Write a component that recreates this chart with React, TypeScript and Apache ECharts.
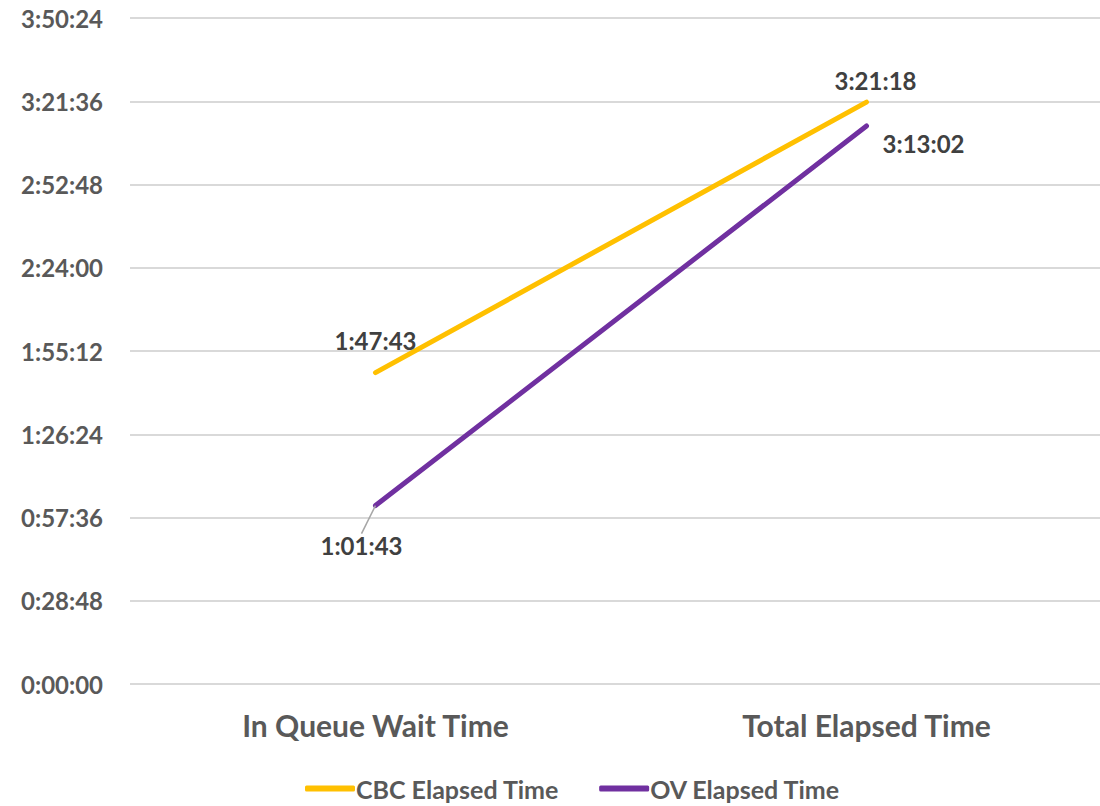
import React, { useEffect, useRef } from "react";
import * as echarts from "echarts";

const categories = ["In Queue Wait Time", "Total Elapsed Time"];
const cbcSeconds = [6463, 12078]; // 1:47:43, 3:21:18
const ovSeconds = [3703, 11582]; // 1:01:43, 3:13:02
const seriesNames = ["CBC Elapsed Time", "OV Elapsed Time"];
const yInterval = 1728; // 0:28:48
const yMax = 13824; // 3:50:24

function fmt(sec: number): string {
  const s = Math.round(sec);
  const h = Math.floor(s / 3600);
  const m = Math.floor((s % 3600) / 60);
  const ss = s % 60;
  return `${h}:${String(m).padStart(2, "0")}:${String(ss).padStart(2, "0")}`;
}

const FONT = "Lato, 'Open Sans', sans-serif";

export default function App() {
  const ref = useRef<HTMLDivElement>(null);
  useEffect(() => {
    if (!ref.current) return;
    const chart = echarts.init(ref.current, null, { renderer: "svg" });
    const labelBase = {
      show: true,
      fontFamily: FONT,
      fontWeight: "bold" as const,
      fontSize: 24,
      color: "#404040",
      formatter: (p: any) => fmt(p.value),
    };
    chart.setOption({
      animation: false,
      backgroundColor: "#ffffff",
      grid: { left: 130, right: 0, top: 18, bottom: 122, containLabel: false },
      legend: {
        bottom: 0,
        left: 300,
        itemWidth: 50,
        itemHeight: 6,
        itemGap: 40,
        icon: "roundRect",
        textStyle: { fontFamily: FONT, fontWeight: "bold", fontSize: 25, color: "#595959", padding: [0, 0, 0, -4] },
        data: seriesNames,
      },
      xAxis: {
        type: "category",
        data: categories,
        boundaryGap: true,
        axisLine: { show: false },
        axisTick: { show: false },
        axisLabel: { fontFamily: FONT, fontWeight: "bold", fontSize: 30, color: "#595959", margin: 26 },
      },
      yAxis: {
        type: "value",
        min: 0,
        max: yMax,
        interval: yInterval,
        axisLine: { show: false },
        axisTick: { show: false },
        splitLine: { lineStyle: { color: "#d9d9d9", width: 2 } },
        axisLabel: {
          fontFamily: FONT,
          fontWeight: "bold",
          fontSize: 24,
          color: "#595959",
          margin: 27,
          formatter: (v: number) => fmt(v),
        },
      },
      series: [
        {
          name: seriesNames[0],
          type: "line",
          data: [
            { value: cbcSeconds[0], label: { ...labelBase, position: "top", distance: 20 } },
            { value: cbcSeconds[1], label: { ...labelBase, position: "top", distance: 10, offset: [9, 0] } },
          ],
          symbol: "circle",
          symbolSize: 0.1,
          showSymbol: true,
          lineStyle: { color: "#FFC000", width: 5, cap: "round" },
          itemStyle: { color: "#FFC000" },
        },
        {
          name: seriesNames[1],
          type: "line",
          data: [
            {
              value: ovSeconds[0],
              label: { ...labelBase, position: "bottom", distance: 5 },
              labelLine: { show: true, lineStyle: { color: "#a6a6a6", width: 1.5 } },
            },
            {
              value: ovSeconds[1],
              label: { ...labelBase, position: "right", distance: 16 },
              labelLine: { show: false },
            },
          ],
          symbol: "circle",
          symbolSize: 0.1,
          showSymbol: true,
          lineStyle: { color: "#7030A0", width: 5, cap: "round" },
          itemStyle: { color: "#7030A0" },
          labelLine: { show: false },
          labelLayout: (p: any) => (p.dataIndex === 0 ? { dx: -14, dy: 23 } : { dx: 0, dy: 17 }),
        },
      ],
    });
    return () => chart.dispose();
  }, []);
  return (
    <div style={{ position: "absolute", left: 0, top: 0, width: 1100, height: 806, overflow: "hidden" }}>
      <div ref={ref} style={{ position: "absolute", left: 0, top: 0, width: 1112, height: 806 }} />
    </div>
  );
}
